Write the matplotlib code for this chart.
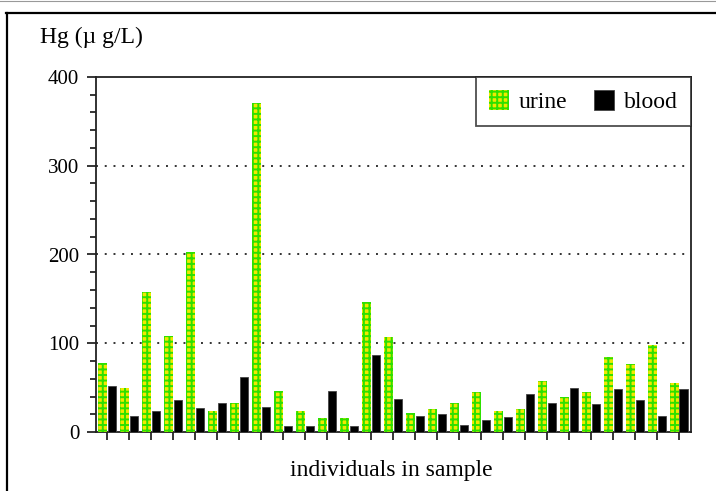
import numpy as np
import matplotlib.pyplot as plt
from matplotlib.lines import Line2D

plt.rcParams['font.family'] = ['Liberation Serif', 'DejaVu Serif']
plt.rcParams['hatch.linewidth'] = 1.4

# Hg concentration per individual
urine = [78, 50, 158, 108, 203, 24, 33, 371, 46, 24, 16, 16, 147, 107,
         21, 26, 33, 45, 24, 26, 57, 39, 45, 84, 77, 98, 55]
blood = [52, 18, 24, 36, 27, 33, 62, 28, 7, 7, 46, 7, 87, 37,
         18, 20, 8, 14, 17, 43, 33, 50, 31, 49, 36, 18, 49]

y_ticks = [0, 100, 200, 300, 400]

fig = plt.figure(figsize=(7.16, 4.91), dpi=100)
ax = fig.add_axes([96 / 716, 59 / 491, 594.7 / 716, 355 / 491])

x = np.arange(len(urine))
w = 0.39
ax.bar(x - 0.215, urine, width=w, color='#f2e800', edgecolor='#2ee000',
       hatch='+++', linewidth=0, zorder=3, label='urine')
ax.bar(x + 0.215, blood, width=w, color='black', edgecolor='#444444',
       linewidth=0.6, zorder=3, label='blood')

# dotted grid
for v in y_ticks[1:-1]:
    ax.axhline(v, color='#333333', linewidth=1.4, linestyle=(0, (1, 3.5)),
               zorder=1)

ax.set_xlim(-0.52, len(urine) - 0.47)
ax.set_ylim(0, 400)
ax.set_xticks(x)
ax.set_xticklabels([])
ax.set_yticks(y_ticks)
ax.set_yticks(np.arange(0, 401, 20), minor=True)
ax.tick_params(axis='y', which='major', length=6.5, width=1.1, pad=5.5,
               labelsize=15, direction='out')
ax.tick_params(axis='y', which='minor', length=4.5, width=1.1, direction='out')
ax.tick_params(axis='x', which='major', length=5.5, width=1.1, direction='out')

for s in ax.spines.values():
    s.set_linewidth(1.3)
    s.set_color('#222222')

leg = ax.legend(loc='upper right', ncol=2, frameon=True, fancybox=False,
                borderaxespad=0, fontsize=17, handlelength=0.85,
                handleheight=0.95, handletextpad=0.4, columnspacing=1.15,
                borderpad=0.55)
leg.get_frame().set_edgecolor('#222222')
leg.get_frame().set_linewidth(1.3)

fig.text(40 / 716, 1 - 42.5 / 491, 'Hg (\u00b5 g/L)', fontsize=17,
         va='baseline', ha='left')
fig.text(391.7 / 716, 15 / 491, 'individuals in sample', fontsize=17,
         va='baseline', ha='center')

# outer frame (top and left only) and thin grey top line
fig.add_artist(Line2D([6 / 716, 1], [1 - 12.7 / 491, 1 - 12.7 / 491],
                      transform=fig.transFigure, color='black', linewidth=1.6))
fig.add_artist(Line2D([7.2 / 716, 7.2 / 716], [0, 1 - 12.7 / 491],
                      transform=fig.transFigure, color='black', linewidth=1.6))
fig.add_artist(Line2D([0, 1], [1 - 0.5 / 491, 1 - 0.5 / 491],
                      transform=fig.transFigure, color='#999999', linewidth=0.8))

fig.savefig('out.png', dpi=100)
